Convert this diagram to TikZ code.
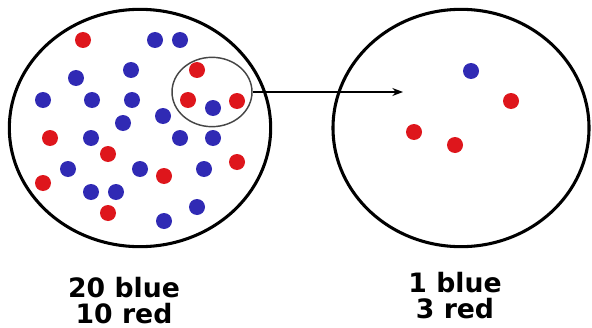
\documentclass[tikz,border=0pt]{standalone}
\usepackage{fontspec}
\setmainfont{DejaVu Sans}
\usetikzlibrary{shapes.geometric,arrows.meta}
\definecolor{dotred}{RGB}{222,22,28}
\definecolor{dotblue}{RGB}{48,42,180}
\definecolor{ringgray}{RGB}{70,70,70}
\tikzset{
  big/.style={draw=black,line width=2.3pt,ellipse,inner sep=0pt},
  rd/.style={circle,fill=dotred,minimum size=12pt,inner sep=0pt},
  bd/.style={circle,fill=dotblue,minimum size=12pt,inner sep=0pt},
  lbl/.style={font=\bfseries\fontsize{20}{20}\selectfont,inner sep=0pt,anchor=base},
}
\begin{document}
\begin{tikzpicture}[x=0.75pt,y=-0.75pt]
\useasboundingbox (0,0) rectangle (592,328);
\node[big,minimum width=196pt,minimum height=178pt] (left) at (140,128) {};
\node[big,minimum width=192pt,minimum height=178pt] (right) at (461,128) {};
\node[draw=ringgray,line width=1.1pt,ellipse,minimum width=60pt,minimum height=52pt,inner sep=0pt] (sel) at (212,92) {};
% red dots left
\foreach \p [count=\i] in {(83,40),(197,70),(188,100),(237,101),(50,138),(108,154),(237,162),(43,183),(164,176),(108,213)}
  \node[rd] (r\i) at \p {};
% blue dots left
\foreach \p [count=\i] in {(155,40),(180,40),(131,70),(76,78),(43,100),(92,100),(132,100),(213,108),(163,116),(123,123),(91,138),(180,138),(213,138),(68,169),(140,169),(204,169),(91,192),(116,192),(197,207),(164,221)}
  \node[bd] (b\i) at \p {};
% right dots
\node[bd] (rb1) at (471,71) {};
\node[rd] (rr1) at (511,101) {};
\node[rd] (rr2) at (414,132) {};
\node[rd] (rr3) at (455,145) {};
\coordinate (arrowend) at (403,92);
\draw[line width=1.1pt,-{Stealth[length=8pt,width=6pt]}] (sel) -- (arrowend);
\node[lbl] (l1) at (124,297) {20 blue};
\node[lbl] (l2) at (124,323) {10 red};
\node[lbl] (l3) at (455,292) {1 blue};
\node[lbl] (l4) at (455,318) {3 red};
\end{tikzpicture}
\end{document}
